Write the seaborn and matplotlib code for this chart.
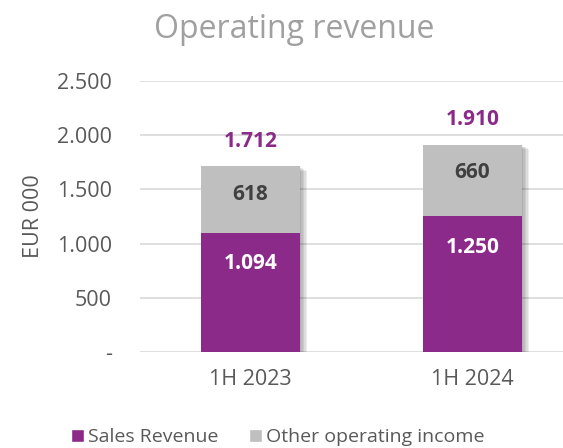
import matplotlib
matplotlib.use("Agg")
import matplotlib.pyplot as plt
import matplotlib.patheffects as pe
from matplotlib.patches import Patch
from matplotlib.ticker import FuncFormatter
import seaborn as sns
import pandas as pd

periods = ["1H 2023", "1H 2024"]
sales_revenue = [1094, 1250]
other_income = [618, 660]
y_ticks = [0, 500, 1000, 1500, 2000, 2500]

PURPLE = "#8B2A89"
GREY = "#BFBFBF"
TEXT = "#595959"

sns.set_theme(style="white")
plt.rcParams["font.family"] = ["Open Sans", "DejaVu Sans"]

totals = [s + o for s, o in zip(sales_revenue, other_income)]
df = pd.DataFrame({"period": periods, "sales": sales_revenue,
                   "other": other_income, "total": totals})


def dotted(v):
    return f"{int(v):,}".replace(",", ".")


fig = plt.figure(figsize=(5.63, 4.48), dpi=100)
ax = fig.add_axes([139.5 / 563, 96 / 448, 1 - 139.5 / 563, (352 - 81) / 448])

# stacked look: full total in grey, sales revenue drawn over it
sns.barplot(data=df, x="period", y="total", color=GREY, width=0.446,
            saturation=1, linewidth=0, ax=ax, zorder=2)
sns.barplot(data=df, x="period", y="sales", color=PURPLE, width=0.446,
            saturation=1, linewidth=0, ax=ax, zorder=3)

# soft drop shadow behind each stack
soft = [pe.SimplePatchShadow(offset=(d, -d * 0.6), shadow_rgbFace="#000000", alpha=0.07)
        for d in (5, 4, 3, 2, 1)]
for p in ax.patches[:len(periods)]:
    p.set_path_effects(soft + [pe.Normal()])

for i in range(len(periods)):
    ax.annotate(dotted(sales_revenue[i]), (i, sales_revenue[i]),
                xytext=(0, -22), textcoords="offset points", ha="center", va="center",
                color="white", fontsize=15, fontweight="bold", zorder=5)
    ax.annotate(dotted(other_income[i]), (i, totals[i]),
                xytext=(0, -20), textcoords="offset points", ha="center", va="center",
                color="#404040", fontsize=15, fontweight="bold", zorder=5)
    ax.annotate(dotted(totals[i]), (i, totals[i]),
                xytext=(0, 18), textcoords="offset points", ha="center", va="center",
                color=PURPLE, fontsize=15, fontweight="bold", zorder=5)

ax.set_xlim(-0.5, (563 - 250.5) / 222)
ax.set_ylim(0, 2500)
ax.set_yticks(y_ticks)
ax.yaxis.set_major_formatter(FuncFormatter(lambda v, _: "-" if v == 0 else dotted(v)))
ax.grid(axis="y", color="#D9D9D9", linewidth=1.2, zorder=0)
ax.set_axisbelow(True)
for s in ax.spines.values():
    s.set_visible(False)
ax.tick_params(axis="both", length=0, labelsize=15.5, labelcolor=TEXT)
ax.tick_params(axis="y", pad=20)
ax.tick_params(axis="x", pad=12)
ax.set_xlabel("")
ax.set_ylabel("EUR 000", fontsize=15.5, color=TEXT)
ax.yaxis.set_label_coords(-28 / 423.5 - 0.16, 0.5)

fig.text(294 / 563, 1 - 30 / 448, "Operating revenue", ha="center", va="center",
         fontsize=23, color="#A0A0A0")

handles = [Patch(facecolor=PURPLE, label="Sales Revenue"),
           Patch(facecolor=GREY, label="Other operating income")]
fig.legend(handles=handles, loc="center", bbox_to_anchor=(278 / 563, 1 - 437 / 448),
           ncol=2, frameon=False, fontsize=14, labelcolor=TEXT, handlelength=0.65,
           handleheight=0.65, handletextpad=0.2, columnspacing=1.6)

fig.savefig("out.png", dpi=100)
